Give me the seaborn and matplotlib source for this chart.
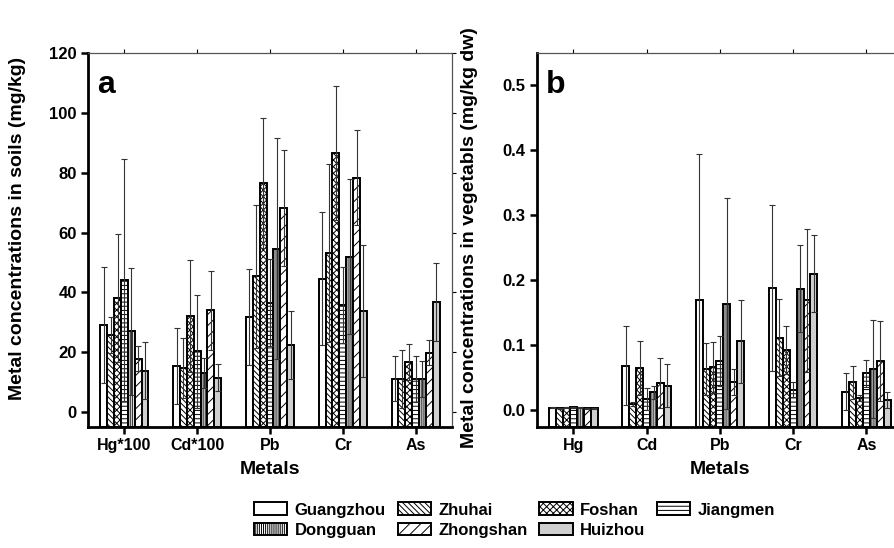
import numpy as np
import pandas as pd
import matplotlib
matplotlib.use("Agg")
import matplotlib.pyplot as plt
import matplotlib.patches as mpatches
import seaborn as sns

# ---------------- data ----------------
cities = ["Guangzhou", "Zhuhai", "Foshan", "Jiangmen", "Dongguan", "Zhongshan", "Huizhou"]

soil_metals = ["Hg*100", "Cd*100", "Pb", "Cr", "As"]
soil_mean = {
    "Hg*100": [29.0, 25.7, 38.1, 44.2, 27.0, 17.9, 13.8],
    "Cd*100": [15.4, 14.6, 32.0, 20.3, 13.1, 34.0, 11.4],
    "Pb":     [31.8, 45.4, 76.6, 36.6, 54.6, 68.4, 22.3],
    "Cr":     [44.6, 53.2, 86.8, 35.7, 52.0, 78.4, 33.8],
    "As":     [11.2, 11.2, 16.7, 11.0, 11.0, 19.9, 36.9],
}
soil_sd = {
    "Hg*100": [19.4, 6.0, 21.5, 40.4, 21.2, 4.3, 9.6],
    "Cd*100": [12.8, 10.0, 18.7, 19.0, 5.1, 13.3, 4.5],
    "Pb":     [16.1, 23.9, 21.6, 14.6, 37.0, 19.4, 11.4],
    "Cr":     [22.2, 29.7, 22.4, 12.7, 25.9, 15.8, 22.1],
    "As":     [7.6, 9.7, 5.9, 7.7, 6.0, 4.1, 13.0],
}

veg_metals = ["Hg", "Cd", "Pb", "Cr", "As"]
veg_mean = {
    "Hg": [0.003, 0.002, 0.003, 0.004, 0.003, 0.002, 0.002],
    "Cd": [0.068, 0.009, 0.064, 0.017, 0.027, 0.041, 0.037],
    "Pb": [0.169, 0.063, 0.065, 0.075, 0.163, 0.043, 0.105],
    "Cr": [0.187, 0.111, 0.092, 0.031, 0.186, 0.168, 0.209],
    "As": [0.028, 0.042, 0.018, 0.056, 0.063, 0.075, 0.015],
}
veg_sd = {
    "Hg": [0.001, 0.001, 0.001, 0.001, 0.001, 0.001, 0.001],
    "Cd": [0.061, 0.003, 0.042, 0.017, 0.010, 0.038, 0.033],
    "Pb": [0.224, 0.040, 0.039, 0.038, 0.162, 0.020, 0.064],
    "Cr": [0.128, 0.059, 0.037, 0.012, 0.067, 0.110, 0.059],
    "As": [0.029, 0.025, 0.004, 0.021, 0.075, 0.062, 0.012],
}

soil_yticks = [0, 20, 40, 60, 80, 100, 120]
veg_yticks = [0.0, 0.1, 0.2, 0.3, 0.4, 0.5]

# ---------------- style ----------------
sns.set_theme(style="white")
plt.rcParams["font.family"] = ["Liberation Sans", "DejaVu Sans"]
plt.rcParams["font.weight"] = "bold"
plt.rcParams["text.color"] = "black"
plt.rcParams["axes.labelcolor"] = "black"
plt.rcParams["xtick.color"] = "black"
plt.rcParams["ytick.color"] = "black"
plt.rcParams["hatch.linewidth"] = 0.7
plt.rcParams["hatch.color"] = "black"

hatches = ["", "\\" * 6, "xxxxx", "----", "|" * 8, "///", ""]
faces = ["white", "white", "white", "white", "white", "white", "#cfcfcf"]


def long_df(metals, mean, sd):
    rows = []
    for m in metals:
        for c, v, s in zip(cities, mean[m], sd[m]):
            rows.append({"metal": m, "city": c, "value": v, "sd": s})
    return pd.DataFrame(rows)


fig = plt.figure(figsize=(8.95, 5.48), dpi=100)
ax_a = fig.add_axes([0.0983, 0.2214, 0.4067, 0.6813])
ax_b = fig.add_axes([0.5997, 0.2214, 0.4093, 0.6813])


def draw(ax, metals, mean, sd, ylim, yticks, fmt, letter, ylabel, ylab_pos):
    df = long_df(metals, mean, sd)
    sns.barplot(data=df, x="metal", y="value", hue="city", order=metals,
                hue_order=cities, width=0.66, gap=0, errorbar=None,
                legend=False, ax=ax)
    base = ylim[0]
    for cont, h, fc, city in zip(ax.containers, hatches, faces, cities):
        xs, ys, es = [], [], []
        for bar, m in zip(cont, metals):
            bar.set_hatch(h)
            bar.set_facecolor(fc)
            bar.set_edgecolor("black")
            bar.set_linewidth(1.4)
            hgt = bar.get_height()
            bar.set_y(base)
            bar.set_height(hgt - base)
            xs.append(bar.get_x() + bar.get_width() / 2)
            row = df[(df.metal == m) & (df.city == city)].iloc[0]
            ys.append(row.value)
            es.append(row.sd)
        ax.errorbar(xs, ys, yerr=es, fmt="none", ecolor="#333333",
                    elinewidth=0.8, capsize=2, capthick=0.8, zorder=4)
    ax.set_xlim(-0.5, 4.5)
    ax.set_ylim(*ylim)
    ax.set_yticks(yticks)
    ax.set_yticklabels([fmt.format(t) for t in yticks], fontsize=12, fontweight="bold")
    ax.set_xticks(range(len(metals)))
    ax.set_xticklabels(metals, fontsize=11.5, fontweight="bold")
    ax.set_xlabel("Metals", fontsize=14, fontweight="bold", labelpad=6)
    ax.set_ylabel(ylabel, fontsize=14, fontweight="bold")
    ax.yaxis.set_label_coords(*ylab_pos)
    for s in ["left", "bottom"]:
        ax.spines[s].set_linewidth(2.0)
        ax.spines[s].set_color("black")
    for s in ["top", "right"]:
        ax.spines[s].set_linewidth(0.9)
        ax.spines[s].set_color("#555555")
    ax.tick_params(axis="both", which="major", direction="out", length=5,
                   width=1.8, color="black", pad=3,
                   bottom=True, left=True, top=False, right=False)
    ax.tick_params(axis="x", top=True, labeltop=False)
    ax.tick_params(axis="y", right=True, labelright=False)
    for t in ax.xaxis.get_major_ticks() + ax.yaxis.get_major_ticks():
        t.tick2line.set_markersize(3)
        t.tick2line.set_markeredgewidth(0.8)
        t.tick2line.set_color("#555555")
    ax.text(0.025, 0.955, letter, transform=ax.transAxes, fontsize=23,
            fontweight="bold", va="top", ha="left")
    ax.grid(False)


draw(ax_a, soil_metals, soil_mean, soil_sd, (-4.9, 120), soil_yticks, "{:g}", "a",
     "Metal concentrations in soils (mg/kg)", (-0.17, 0.532))
draw(ax_b, veg_metals, veg_mean, veg_sd, (-0.026, 0.548), veg_yticks, "{:.1f}", "b",
     "Metal concentrations in vegetabls (mg/kg dw)", (-0.16, 0.507))

# legend (column-major order)
leg_order = ["Guangzhou", "Dongguan", "Zhuhai", "Zhongshan", "Foshan", "Huizhou", "Jiangmen"]
handles = []
for name in leg_order:
    i = cities.index(name)
    handles.append(mpatches.Patch(facecolor=faces[i], edgecolor="black",
                                  hatch=hatches[i], linewidth=1.4, label=name))
fig.legend(handles=handles, loc="center", bbox_to_anchor=(0.575, 0.051), ncol=4,
           frameon=False, prop={"size": 12, "weight": "bold"},
           handlelength=2.0, handleheight=0.8, handletextpad=0.45,
           columnspacing=0.7, labelspacing=0.3, borderpad=0.2)

fig.savefig("out.png", dpi=100)
